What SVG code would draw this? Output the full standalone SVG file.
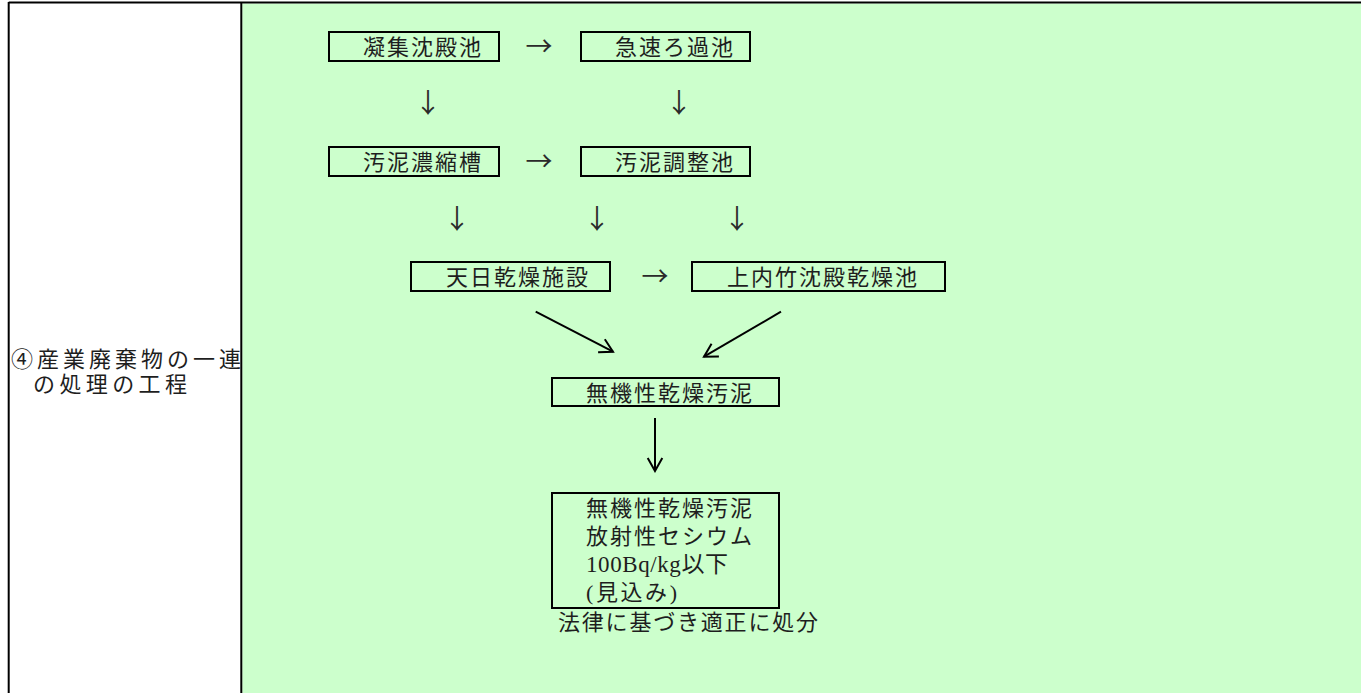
<svg xmlns="http://www.w3.org/2000/svg" width="1361" height="693" viewBox="0 0 1361 693">
<style>
.t{font-family:"Liberation Serif","Noto Sans CJK JP",serif;font-size:22px;fill:#1e1e1e;letter-spacing:2px}
.a{font-family:"Noto Sans CJK JP",sans-serif;font-size:27px;fill:#2a2a2a;text-anchor:middle}
.box{fill:none;stroke:#000;stroke-width:2}
.ln{fill:none;stroke:#000;stroke-width:2}
.grid{stroke:#000;stroke-width:2;fill:none}
</style>
<defs>
<marker id="v" markerUnits="userSpaceOnUse" viewBox="-15 -9 17 18" refX="0" refY="0" markerWidth="17" markerHeight="18" orient="auto">
<path d="M-13,-7.3 L0,0 L-13,7.3" fill="none" stroke="#000" stroke-width="2"/>
</marker>
</defs>
<g id="table">
<rect x="0" y="0" width="1361" height="693" fill="#ffffff"/>
<rect x="242.3" y="3.5" width="1118.7" height="689.5" fill="#ccffcc"/>
<line class="grid" x1="8.7" y1="2.5" x2="1361" y2="2.5"/>
<line class="grid" x1="8.7" y1="2" x2="8.7" y2="693"/>
<line class="grid" x1="241.3" y1="2" x2="241.3" y2="693"/>
<text class="t" x="11" y="366.7" textLength="230" lengthAdjust="spacing" style="letter-spacing:0">④産業廃棄物の一連</text>
<text class="t" x="33" y="391.7" textLength="154" lengthAdjust="spacing" style="letter-spacing:0">の処理の工程</text>
</g>
<g id="n1"><rect class="box" x="329" y="32" width="170" height="29"/><text class="t" x="363" y="54.5">凝集沈殿池</text></g>
<g id="n2"><rect class="box" x="581" y="32" width="169" height="29"/><text class="t" x="615" y="54.5">急速ろ過池</text></g>
<g id="n3"><rect class="box" x="329" y="147" width="170" height="29"/><text class="t" x="363" y="170">汚泥濃縮槽</text></g>
<g id="n4"><rect class="box" x="581" y="147" width="169" height="29"/><text class="t" x="615" y="170">汚泥調整池</text></g>
<g id="n5"><rect class="box" x="411" y="262" width="199" height="29"/><text class="t" x="446" y="285">天日乾燥施設</text></g>
<g id="n6"><rect class="box" x="692" y="262" width="253" height="29"/><text class="t" x="727" y="285">上内竹沈殿乾燥池</text></g>
<g id="n7"><rect class="box" x="552" y="378" width="227" height="28"/><text class="t" x="586" y="400.5">無機性乾燥汚泥</text></g>
<g id="n8"><rect class="box" x="552" y="493" width="227" height="115"/>
<text class="t" x="586" y="515.7">無機性乾燥汚泥</text>
<text class="t" x="586" y="544">放射性セシウム</text>
<text class="t" x="586" y="572.4" textLength="142" lengthAdjust="spacing" style="letter-spacing:0;font-size:23px">100Bq/kg以下</text>
<text class="t" x="586" y="600.4" textLength="91" lengthAdjust="spacing" style="letter-spacing:0">(見込み)</text>
</g>
<g id="n9"><text class="t" x="558" y="630" textLength="260" lengthAdjust="spacing" style="letter-spacing:0">法律に基づき適正に処分</text></g>
<g id="connectors">
<text class="a" x="539" y="56">→</text>
<text class="a" x="539" y="170.5">→</text>
<text class="a" x="655" y="286">→</text>
<text class="a" x="428" y="112.5">↓</text>
<text class="a" x="679" y="112.5">↓</text>
<text class="a" x="457" y="228.5">↓</text>
<text class="a" x="597" y="228.5">↓</text>
<text class="a" x="737" y="228.5">↓</text>
<line class="ln" x1="535.7" y1="311.7" x2="613" y2="351.7" marker-end="url(#v)"/>
<line class="ln" x1="781" y1="311.7" x2="704" y2="356.7" marker-end="url(#v)"/>
<line class="ln" x1="655" y1="418" x2="655" y2="471" marker-end="url(#v)"/>
</g>
</svg>
